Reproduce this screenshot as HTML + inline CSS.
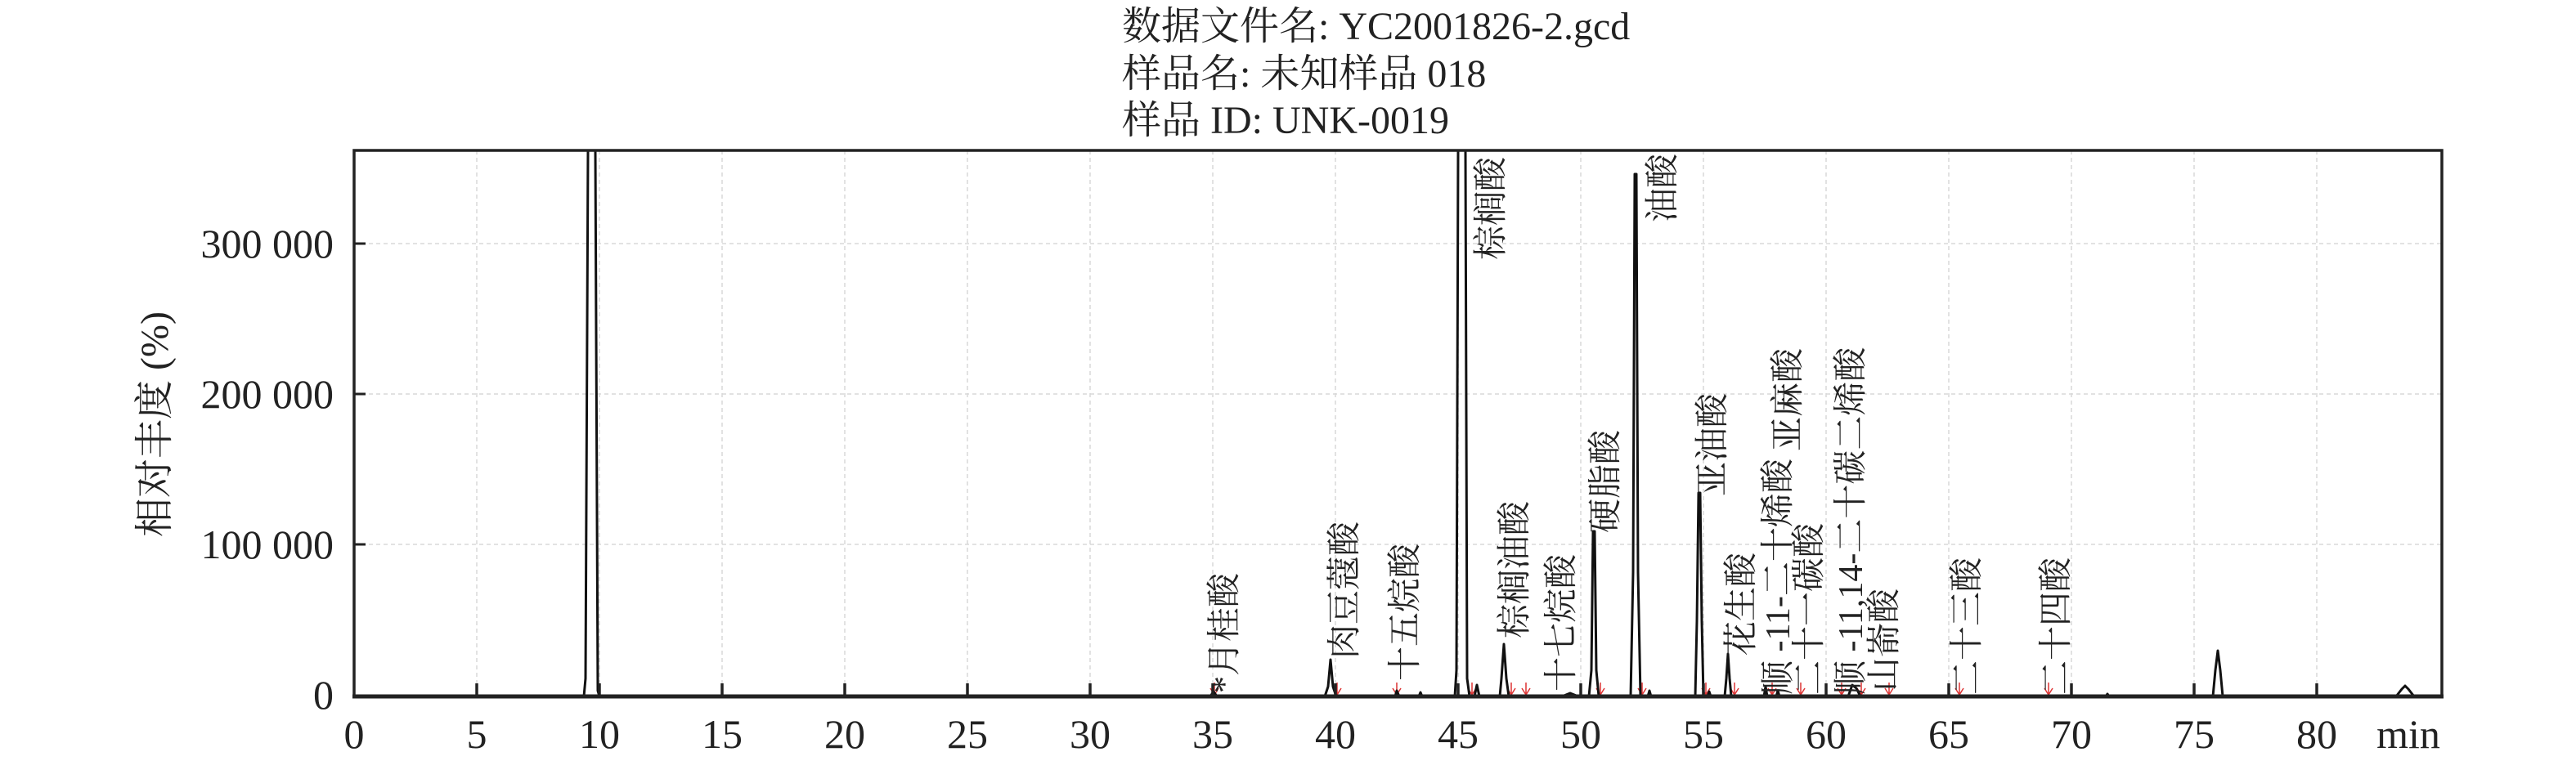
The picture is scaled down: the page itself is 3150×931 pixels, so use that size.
<!DOCTYPE html>
<html><head><meta charset="utf-8"><style>
html,body{margin:0;padding:0;background:#fff;}
svg{display:block;font-family:"Liberation Serif","Noto Serif CJK SC","Noto Sans CJK SC",serif;}
</style></head><body>
<svg width="3150" height="931" viewBox="0 0 3150 931" xmlns="http://www.w3.org/2000/svg">
<rect width="3150" height="931" fill="#fff"/>
<g font-size="48" fill="#222">
<text x="1372" y="48">数据文件名: YC2001826-2.gcd</text>
<text x="1372" y="106">样品名: 未知样品 018</text>
<text x="1372" y="163">样品 ID: UNK-0019</text>
</g>
<!-- grid -->
<g stroke="#d8d8d8" stroke-width="1.5" stroke-dasharray="5,4">
<line x1="583" y1="184" x2="583" y2="852"/><line x1="733" y1="184" x2="733" y2="852"/>
<line x1="883" y1="184" x2="883" y2="852"/><line x1="1033" y1="184" x2="1033" y2="852"/>
<line x1="1183" y1="184" x2="1183" y2="852"/><line x1="1333" y1="184" x2="1333" y2="852"/>
<line x1="1483" y1="184" x2="1483" y2="852"/><line x1="1633" y1="184" x2="1633" y2="852"/>
<line x1="1783" y1="184" x2="1783" y2="852"/><line x1="1933" y1="184" x2="1933" y2="852"/>
<line x1="2083" y1="184" x2="2083" y2="852"/><line x1="2233" y1="184" x2="2233" y2="852"/>
<line x1="2383" y1="184" x2="2383" y2="852"/><line x1="2533" y1="184" x2="2533" y2="852"/>
<line x1="2683" y1="184" x2="2683" y2="852"/><line x1="2833" y1="184" x2="2833" y2="852"/>
<line x1="433" y1="298" x2="2986" y2="298"/><line x1="433" y1="482" x2="2986" y2="482"/>
<line x1="433" y1="666" x2="2986" y2="666"/>
</g>
<!-- red markers -->
<g stroke="#d33" stroke-width="1.5" fill="none">
<path d="M1485 835 L1485 850 M1480 842 L1485 850 L1490 842"/>
<path d="M1635 835 L1635 850 M1630 842 L1635 850 L1640 842"/>
<path d="M1708 835 L1708 850 M1703 842 L1708 850 L1713 842"/>
<path d="M1800 835 L1800 850 M1795 842 L1800 850 L1805 842"/>
<path d="M1848 835 L1848 850 M1843 842 L1848 850 L1853 842"/>
<path d="M1866 835 L1866 850 M1861 842 L1866 850 L1871 842"/>
<path d="M1957 835 L1957 850 M1952 842 L1957 850 L1962 842"/>
<path d="M2008 835 L2008 850 M2003 842 L2008 850 L2013 842"/>
<path d="M2086 835 L2086 850 M2081 842 L2086 850 L2091 842"/>
<path d="M2121 835 L2121 850 M2116 842 L2121 850 L2126 842"/>
<path d="M2167 835 L2167 850 M2162 842 L2167 850 L2172 842"/>
<path d="M2202 835 L2202 850 M2197 842 L2202 850 L2207 842"/>
<path d="M2252 835 L2252 850 M2247 842 L2252 850 L2257 842"/>
<path d="M2276 835 L2276 850 M2271 842 L2276 850 L2281 842"/>
<path d="M2310 835 L2310 850 M2305 842 L2310 850 L2315 842"/>
<path d="M2396 835 L2396 850 M2391 842 L2396 850 L2401 842"/>
<path d="M2505 835 L2505 850 M2500 842 L2505 850 L2510 842"/>
</g>
<!-- chromatogram -->
<g stroke="#111" stroke-width="3" fill="none" stroke-linejoin="round">
<path d="M433 852 L714 852 L716 830 L719 184 M728 184 L731 845 L733 852
L1480 852 L1484 846 L1488 852
L1620 852 L1624 840 L1627 807 L1630 840 L1634 852
L1706 852 L1708 845 L1711 852 L1735 852 L1737 847 L1739 852
L1779 852 L1781 820 L1783 184 M1792 184 L1794 830 L1797 852 L1803 852 L1806 838 L1809 852
L1834 852 L1836 830 L1839 788 L1842 830 L1845 852
L1910 852 L1920 848 L1930 852
L1943 852 L1946 820 L1948 650 L1950 650 L1952 820 L1955 852
L1994 852 L1997 700 L1999 213 L2001 213 L2003 700 L2006 852 L2015 852 L2017 845 L2019 852
L2073 852 L2075 760 L2077 603 L2079 603 L2081 760 L2083 852 L2088 852 L2090 846 L2092 852
L2109 852 L2111 830 L2113 800 L2115 830 L2117 852
L2157 852 L2159 840 L2161 852 L2172 852 L2174 845 L2176 852
L2260 852 L2265 838 L2270 842 L2275 852
L2575 852 L2577 849 L2579 852
L2706 852 L2709 820 L2712 796 L2715 820 L2718 852
L2930 852 L2937 843 L2941 839 L2945 843 L2952 852 L2986 852"/>
</g>
<!-- axes -->
<g stroke="#222" fill="none">
<path d="M433 852 L433 184 L2986 184 L2986 852" stroke-width="3.5"/>
<line x1="431" y1="852" x2="2988" y2="852" stroke-width="5"/>
<path d="M583 852 v-16 M733 852 v-16 M883 852 v-16 M1033 852 v-16 M1183 852 v-16 M1333 852 v-16 M1483 852 v-16 M1633 852 v-16 M1783 852 v-16 M1933 852 v-16 M2083 852 v-16 M2233 852 v-16 M2383 852 v-16 M2533 852 v-16 M2683 852 v-16 M2833 852 v-16" stroke-width="3.5"/>
<path d="M433 298 h14 M433 482 h14 M433 666 h14" stroke-width="3"/>
</g>
<g font-size="50" fill="#222" text-anchor="end">
<text x="408" y="315">300 000</text>
<text x="408" y="499">200 000</text>
<text x="408" y="683">100 000</text>
<text x="408" y="867">0</text>
</g>
<g font-size="50" fill="#222" text-anchor="middle">
<text x="433" y="915">0</text><text x="583" y="915">5</text><text x="733" y="915">10</text>
<text x="883" y="915">15</text><text x="1033" y="915">20</text><text x="1183" y="915">25</text>
<text x="1333" y="915">30</text><text x="1483" y="915">35</text><text x="1633" y="915">40</text>
<text x="1783" y="915">45</text><text x="1933" y="915">50</text><text x="2083" y="915">55</text>
<text x="2233" y="915">60</text><text x="2383" y="915">65</text><text x="2533" y="915">70</text>
<text x="2683" y="915">75</text><text x="2833" y="915">80</text><text x="2945" y="915">min</text>
</g>
<text transform="translate(205,519) rotate(-90)" font-size="48" fill="#222" text-anchor="middle">相对丰度 (%)</text>
<!-- peak labels -->
<g font-size="42" fill="#222">
<text transform="translate(1511,848) rotate(-90)">*月桂酸</text>
<text transform="translate(1658,806) rotate(-90)">肉豆蔻酸</text>
<text transform="translate(1732,833) rotate(-90)">十五烷酸</text>
<text transform="translate(1837,318) rotate(-90)">棕榈酸</text>
<text transform="translate(1866,781) rotate(-90)">棕榈油酸</text>
<text transform="translate(1923,846) rotate(-90)">十七烷酸</text>
<text transform="translate(1977,652) rotate(-90)">硬脂酸</text>
<text transform="translate(2047,272) rotate(-90)">油酸</text>
<text transform="translate(2108,607) rotate(-90)">亚油酸</text>
<text transform="translate(2143,802) rotate(-90)">花生酸</text>
<text transform="translate(2200,552) rotate(-90)">亚麻酸</text>
<text transform="translate(2188,850) rotate(-90)">顺 -11-二十烯酸</text>
<text transform="translate(2226,850) rotate(-90)">二十一碳酸</text>
<text transform="translate(2277,850) rotate(-90)">顺 -11,14-二十碳二烯酸</text>
<text transform="translate(2318,846) rotate(-90)">山嵛酸</text>
<text transform="translate(2419,850) rotate(-90)">二十三酸</text>
<text transform="translate(2528,850) rotate(-90)">二十四酸</text>
</g>
</svg>
</body></html>
